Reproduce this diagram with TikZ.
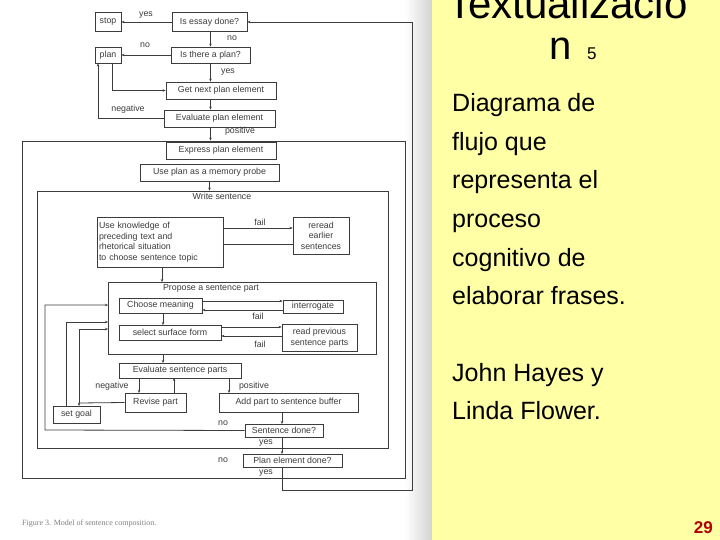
\documentclass[tikz,border=0pt]{standalone}
\usepackage{fontspec}
\setmainfont{Liberation Sans}
\newfontfamily\capfont{Liberation Serif}
\usetikzlibrary{arrows.meta}
\definecolor{slideyellow}{RGB}{255,255,165}
\definecolor{ink}{RGB}{60,60,60}
\begin{document}
\begin{tikzpicture}[x=1pt,y=-1pt,
  box/.style={draw=ink,line width=0.8pt,inner sep=1pt,font=\fontsize{8.8}{10.5}\selectfont,text=ink},
  lbl/.style={font=\fontsize{8.8}{10}\selectfont,text=ink,inner sep=0pt},
  ln/.style={draw=ink,line width=0.8pt},
  ar/.style={ln,-{Stealth[length=3pt,width=2.5pt]}},
  body/.style={font=\fontsize{25}{30}\selectfont,anchor=base west,inner sep=0pt}]
\useasboundingbox (0,0) rectangle (720,540);
\fill[white] (0,0) rectangle (432,540);
\shade[left color=white,right color=gray!35] (405,0) rectangle (432,540);
\fill[slideyellow] (432,0) rectangle (720,540);
% boxes
\node[box,minimum width=26,minimum height=19] (stop) at (108,22) {stop};
\node[box,minimum width=75,minimum height=19] (essay) at (209.5,22) {Is essay done?};
\node[box,minimum width=26,minimum height=16] (plan) at (108,55) {plan};
\node[box,minimum width=79,minimum height=16] (isplan) at (210.5,55) {Is there a plan?};
\node[box,minimum width=110,minimum height=17] (getnext) at (221,90.5) {Get next plan element};
\node[box,minimum width=111,minimum height=17] (evalplan) at (219.5,118.5) {Evaluate plan element};
\node[draw=ink,line width=0.8pt,minimum width=383,minimum height=337,inner sep=0] (frame) at (214,309.5) {};
\node[box,minimum width=110,minimum height=17] (express) at (221,150.5) {Express plan element};
\node[box,minimum width=139,minimum height=17] (probe) at (209.5,172.5) {Use plan as a memory probe};
\node[draw=ink,line width=0.8pt,minimum width=351,minimum height=257,inner sep=0] (write) at (212.5,319.5) {};
\node[lbl] (writel) at (222,196) {Write sentence};
\node[box,minimum width=126,minimum height=50,align=left,text width=122] (know) at (160,242) {Use knowledge of\\preceding text and\\rhetorical situation\\to choose sentence topic};
\node[box,minimum width=56,minimum height=37,align=center] (reread) at (321,235.5) {reread\\earlier\\sentences};
\node[draw=ink,line width=0.8pt,minimum width=268,minimum height=72,inner sep=0] (propose) at (242,318) {};
\node[lbl] (proposel) at (211,288) {Propose a sentence part};
\node[box,minimum width=83,minimum height=15] (choose) at (160.5,305.5) {Choose meaning};
\node[box,minimum width=60,minimum height=13] (interr) at (313,306.5) {interrogate};
\node[box,minimum width=102,minimum height=15] (surface) at (170,332.5) {select surface form};
\node[box,minimum width=75,minimum height=27,align=center] (readprev) at (319.5,337.5) {read previous\\sentence parts};
\node[box,minimum width=122,minimum height=15] (evalsent) at (180,370.5) {Evaluate sentence parts};
\node[box,minimum width=61,minimum height=19] (revise) at (155.5,402.5) {Revise part};
\node[box,minimum width=139,minimum height=19] (add) at (288.5,402.5) {Add part to sentence buffer};
\node[box,minimum width=47,minimum height=17] (goal) at (76.5,414.5) {set goal};
\node[box,minimum width=78,minimum height=13] (sdone) at (284,430.5) {Sentence done?};
\node[box,minimum width=99,minimum height=13] (pdone) at (292.5,460.5) {Plan element done?};
% labels
\node[lbl] at (146,15) {yes};
\node[lbl] at (232,38) {no};
\node[lbl] at (145,45) {no};
\node[lbl] at (228,72) {yes};
\node[lbl] at (128,109) {negative};
\node[lbl] at (240,131) {positive};
\node[lbl] at (260,222) {fail};
\node[lbl] at (258,316) {fail};
\node[lbl] at (260,344) {fail};
\node[lbl] at (112,386) {negative};
\node[lbl] at (254,386) {positive};
\node[lbl] at (223,423) {no};
\node[lbl] at (266,443) {yes};
\node[lbl] at (223,460) {no};
\node[lbl] at (266,473) {yes};
% connectors
\draw[ar] (essay.west) -- (stop.east);
\draw[ar] (essay.south -| isplan.south) -- (isplan.north);
\draw[ar] (isplan.west) -- (plan.east);
\draw[ar] (isplan.south) -- (isplan.south |- getnext.north);
\draw[ar] ([xshift=4pt]plan.south) |- (getnext.west);
\draw[ar] (getnext.south -| isplan.south) -- (isplan.south |- evalplan.north);
\draw[ar] (evalplan.west) -| ([xshift=-10pt]plan.south);
\draw[ar] (isplan.south |- evalplan.south) -- (isplan.south |- frame.north);
\draw[ar] (probe.south) -- (probe.south |- write.north);
\draw[ar] (know.east |- 0,228) -- (reread.west |- 0,228);
\draw[ln] (reread.west |- 0,244) -- (know.east |- 0,244);
\draw[ar] (162,267) -- (162,282);
\draw[ar] (choose.east |- 0,301) -- (interr.west |- 0,301);
\draw[ar] (interr.west |- 0,310) -- (choose.east |- 0,310);
\draw[ar] (163,313) -- (163,325);
\draw[ar] (surface.east |- 0,327) -- (readprev.west |- 0,327);
\draw[ar] (readprev.west |- 0,336) -- (surface.east |- 0,336);
\draw[ar] (163,354) -- (163,363);
\draw[ar] (139,378) -- (139,393);
\draw[ar] (174,393) -- (174,378);
\draw[ar] (229,378) -- (229,393);
\draw[ar] (revise.west) -- (79,403) -- (79,406);
\draw[ar] (79,403) -- (79,329) -- (108,329);
\draw[ar] (66,406) -- (66,322) -- (108,322);
\draw[ar] (sdone.west) -- (45,430) -- (45,305) -- (108,305);
\draw[ar] (282,412) -- (282,424);
\draw[ar] (282,437) -- (282,454);
\draw[ar] (282,467) -- (282,490) -- (412,490) -- (412,22) -- (essay.east);
% caption
\node[font=\capfont\fontsize{8}{9}\selectfont,text=gray,anchor=west,inner sep=0] (cap) at (22,524) {Figure 3. Model of sentence composition.};
% right text
\begin{scope}
\clip (432,0) rectangle (720,540);
\node[font=\fontsize{42}{46}\selectfont,anchor=base west,inner sep=0] (title) at (447,19) {Textualizacio};
\end{scope}
\node[font=\fontsize{40}{44}\selectfont,anchor=base west,inner sep=0] (tn) at (549,60) {n};
\node[font=\fontsize{17}{20}\selectfont,anchor=base west,inner sep=0] (t5) at (587,60) {5};
\node[body] (b1) at (452,112) {Diagrama de};
\node[body] (b2) at (452,151) {flujo que};
\node[body] (b3) at (452,189) {representa el};
\node[body] (b4) at (452,227) {proceso};
\node[body] (b5) at (452,266) {cognitivo de};
\node[body] (b6) at (452,304) {elaborar frases.};
\node[body] (b7) at (452,381) {John Hayes y};
\node[body] (b8) at (452,419) {Linda Flower.};
\node[font=\bfseries\fontsize{17}{20}\selectfont,text=red!70!black,anchor=base east,inner sep=0] (pg) at (713,533) {29};
\end{tikzpicture}
\end{document}
